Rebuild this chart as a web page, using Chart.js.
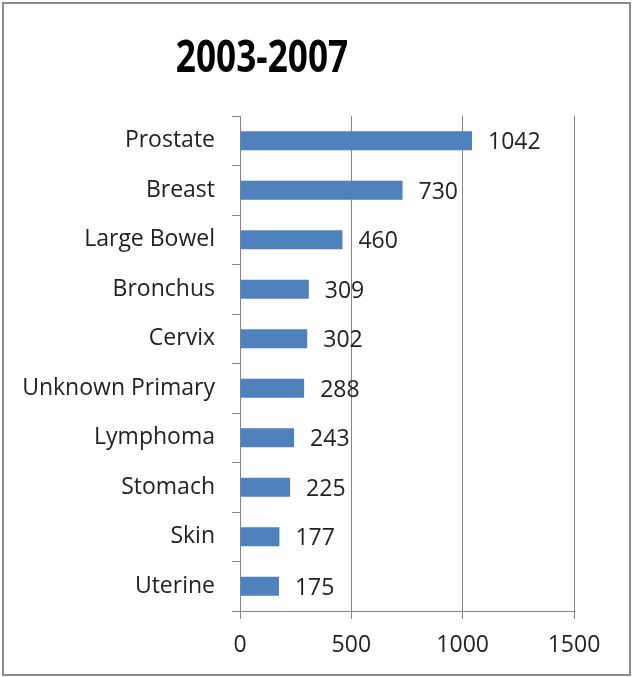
<!DOCTYPE html>
<html>
<head>
<meta charset="utf-8">
<script src="https://cdn.jsdelivr.net/npm/chart.js@4/dist/chart.umd.min.js"></script>
<style>
  html, body { margin: 0; padding: 0; background: #fff; }
  #wrap { position: relative; width: 632px; height: 677px; }
  canvas { position: absolute; left: 0; top: 0; }
</style>
</head>
<body>
<div id="wrap"><canvas id="chart" width="632" height="677"></canvas></div>
<script>
const title = "2003-2007";
const categories = ["Prostate", "Breast", "Large Bowel", "Bronchus", "Cervix", "Unknown Primary", "Lymphoma", "Stomach", "Skin", "Uterine"];
const values = [1042, 730, 460, 309, 302, 288, 243, 225, 177, 175];
const xMin = 0, xMax = 1500, xStep = 500;

const labelFont = { family: "'Open Sans', 'Noto Sans', sans-serif", size: 23 };
const gridColor = "#868686";

// frame round the whole chart, like the excel chart border
const framePlugin = {
  id: "frame",
  beforeDraw(chart) {
    const ctx = chart.ctx;
    ctx.save();
    ctx.fillStyle = "#fff";
    ctx.fillRect(0, 0, chart.width, chart.height);
    ctx.strokeStyle = "#8c8c8c";
    ctx.lineWidth = 2;
    ctx.strokeRect(3, 3, chart.width - 5, chart.height - 5);
    ctx.restore();
  }
};

// title drawn by hand: excel centres it a bit left of the page middle,
// and Calibri bold is narrower than Open Sans so squeeze it a little
const titlePlugin = {
  id: "bigTitle",
  afterDraw(chart) {
    const ctx = chart.ctx;
    ctx.save();
    ctx.font = "bold 44px 'Open Sans', sans-serif";
    ctx.fillStyle = "#000";
    ctx.textAlign = "center";
    ctx.textBaseline = "alphabetic";
    ctx.translate(262, 72);
    ctx.scale(0.8, 1);
    ctx.fillText(title, 0, 0);
    ctx.restore();
  }
};

// value labels to the right of each bar
const valueLabels = {
  id: "valueLabels",
  afterDatasetsDraw(chart) {
    const ctx = chart.ctx;
    const meta = chart.getDatasetMeta(0);
    ctx.save();
    ctx.font = labelFont.size + "px " + labelFont.family;
    ctx.fillStyle = "#222";
    ctx.textAlign = "left";
    ctx.textBaseline = "middle";
    meta.data.forEach((bar, i) => {
      ctx.fillText(String(values[i]), bar.x + 16, bar.y + 2);
    });
    ctx.restore();
  }
};

new Chart(document.getElementById("chart"), {
  type: "bar",
  data: {
    labels: categories,
    datasets: [{
      data: values,
      backgroundColor: "#4F81BD",
      borderWidth: 0,
      barPercentage: 0.38,
      categoryPercentage: 1
    }]
  },
  options: {
    indexAxis: "y",
    responsive: false,
    animation: false,
    devicePixelRatio: 1,
    layout: { padding: { left: 0, right: 58, top: 116, bottom: 0 } },
    plugins: {
      legend: { display: false },
      tooltip: { enabled: false },
      title: { display: false }
    },
    scales: {
      x: {
        min: xMin,
        max: xMax,
        afterFit(scale) { scale.height = 66; },
        grid: { color: gridColor, lineWidth: 1, drawTicks: true, tickLength: 8, tickColor: gridColor },
        border: { display: true, color: gridColor, width: 1 },
        ticks: { stepSize: xStep, color: "#222", font: labelFont, padding: 13, callback: v => String(v) }
      },
      y: {
        afterFit(scale) { scale.width = 240; },
        grid: { offset: true, drawOnChartArea: false, drawTicks: true, tickLength: 8, tickColor: gridColor },
        border: { display: true, color: gridColor, width: 1 },
        ticks: { color: "#222", font: labelFont, padding: 17 }
      }
    }
  },
  plugins: [framePlugin, titlePlugin, valueLabels]
});
</script>
</body>
</html>
